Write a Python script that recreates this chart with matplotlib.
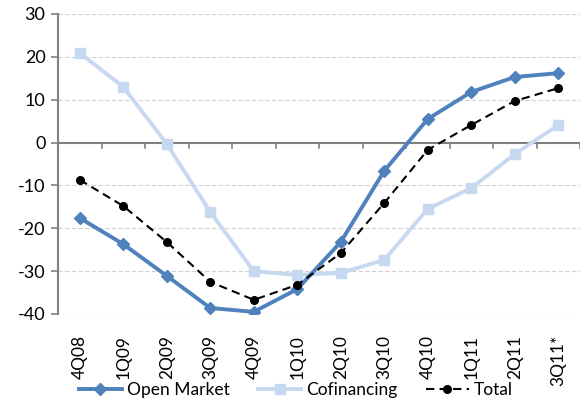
import matplotlib
matplotlib.use("Agg")
import matplotlib.pyplot as plt

categories = ["4Q08", "1Q09", "2Q09", "3Q09", "4Q09", "1Q10", "2Q10", "3Q10", "4Q10", "1Q11", "2Q11", "3Q11*"]
open_market = [-17.6, -23.7, -31.1, -38.6, -39.5, -34.2, -23.2, -6.6, 5.5, 11.8, 15.3, 16.2]
cofinancing = [20.9, 13.0, -0.3, -16.2, -30.0, -30.9, -30.4, -27.4, -15.5, -10.6, -2.7, 4.1]
total = [-8.7, -14.8, -23.2, -32.5, -36.7, -33.2, -25.8, -14.1, -1.7, 4.1, 9.7, 12.7]
yticks = [-40, -30, -20, -10, 0, 10, 20, 30]

plt.rcParams['font.family'] = ['Lato', 'DejaVu Sans']
FS = 12.5

fig = plt.figure(figsize=(5.86, 4.09), dpi=100)
ax = fig.add_axes([58/586, 1 - 314/409, (580-58)/586, 300/409])

x = list(range(len(categories)))
ax.plot(x, cofinancing, color="#C6D9F1", lw=2.8, marker="s", ms=6.5, label="Cofinancing", zorder=3)
ax.plot(x, open_market, color="#4F81BD", lw=2.8, marker="D", ms=6.5, label="Open Market", zorder=4)
ax.plot(x, total, color="black", lw=1.5, ls=(0, (4, 2.5)), marker="o", ms=5.5, label="Total", zorder=5)

ax.set_xlim(-0.5, len(categories) - 0.5)
ax.set_ylim(-40, 30)
ax.set_yticks(yticks)
ax.set_yticklabels([str(v) for v in yticks], fontsize=13)
ax.set_xticks(x)
ax.set_xticklabels(categories, rotation=90, fontsize=FS)
ax.tick_params(axis='x', length=0, pad=15)
ax.tick_params(axis='y', length=5, color="#808080", width=1.2, pad=4)

for v in yticks:
    if v != 0:
        ax.axhline(v, color="#D0D0D0", lw=0.8, ls=(0, (4, 2)), zorder=1)
ax.axhline(0, color="#808080", lw=1.5, zorder=2)
for k in range(len(categories)):
    ax.plot([k + 0.5, k + 0.5], [0, -1.3], color="#808080", lw=1.2, zorder=2)

for s in ["top", "right", "bottom"]:
    ax.spines[s].set_visible(False)
ax.spines["left"].set_color("#808080")
ax.spines["left"].set_linewidth(1.5)

h, l = ax.get_legend_handles_labels()
order = [1, 0, 2]
fig.legend([h[i] for i in order], [l[i] for i in order], loc="lower center", ncol=3,
           frameon=False, fontsize=FS, handlelength=2.5, handletextpad=0.3, columnspacing=1.6,
           bbox_to_anchor=(0.505, -0.012))

fig.savefig("out.png", dpi=100)
